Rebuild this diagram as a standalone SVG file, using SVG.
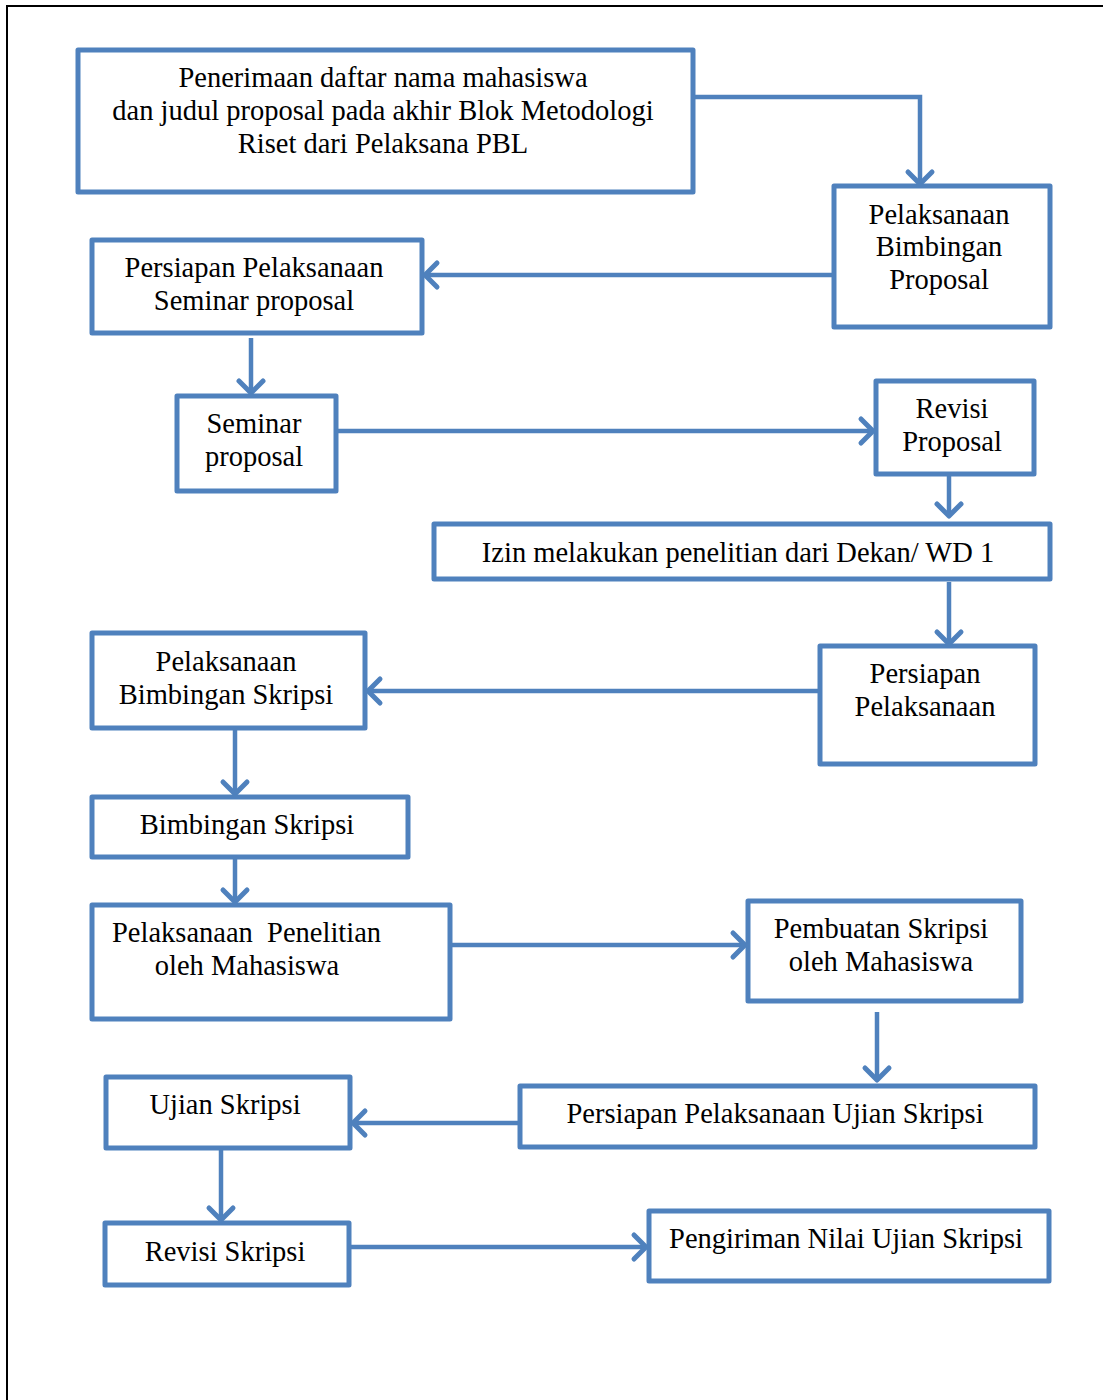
<svg xmlns="http://www.w3.org/2000/svg" width="1103" height="1400" viewBox="0 0 1103 1400">
<defs>
<style>
.box{fill:#fff;stroke:#4F81BD;stroke-width:5;stroke-linejoin:round}
.c{fill:none;stroke:#4F81BD;stroke-width:4.5;marker-end:url(#ah)}
text{font-family:"Liberation Serif","Times New Roman",serif;font-size:28.5px;fill:#000;text-anchor:middle}
</style>
<marker id="ah" markerUnits="userSpaceOnUse" markerWidth="30" markerHeight="30" viewBox="-15 -15 30 30" refX="0" refY="0" orient="auto" overflow="visible">
<path d="M -12 -12 L 0 0 L -12 12" fill="none" stroke="#4F81BD" stroke-width="5" stroke-linecap="round" stroke-linejoin="round"/>
</marker>
</defs>
<rect width="1103" height="1400" fill="#fff"/>
<rect x="7" y="6" width="1110" height="1410" fill="none" stroke="#000" stroke-width="2"/>
<g id="connectors">
<polyline class="c" points="693,97 920,97 920,184"/>
<line class="c" x1="834" y1="275" x2="425" y2="275"/>
<line class="c" x1="251" y1="338" x2="251" y2="393"/>
<line class="c" x1="336" y1="431" x2="873" y2="431"/>
<line class="c" x1="949" y1="474" x2="949" y2="516"/>
<line class="c" x1="949" y1="582" x2="949" y2="644"/>
<line class="c" x1="820" y1="691" x2="368" y2="691"/>
<line class="c" x1="235" y1="728" x2="235" y2="794"/>
<line class="c" x1="235" y1="857" x2="235" y2="902"/>
<line class="c" x1="450" y1="945" x2="745" y2="945"/>
<line class="c" x1="877" y1="1012" x2="877" y2="1080"/>
<line class="c" x1="520" y1="1123" x2="353" y2="1123"/>
<line class="c" x1="221" y1="1150" x2="221" y2="1220"/>
<line class="c" x1="349" y1="1247" x2="646" y2="1247"/>
</g>
<g id="n1"><rect class="box" x="78" y="50" width="615" height="142"/>
<text x="383" y="87">Penerimaan daftar nama mahasiswa</text>
<text x="383" y="120">dan judul proposal pada akhir Blok Metodologi</text>
<text x="383" y="153">Riset dari Pelaksana PBL</text></g>
<g id="n2"><rect class="box" x="834" y="186" width="216" height="141"/>
<text x="939" y="224">Pelaksanaan</text>
<text x="939" y="256">Bimbingan</text>
<text x="939" y="289">Proposal</text></g>
<g id="n3"><rect class="box" x="92" y="240" width="330" height="93"/>
<text x="254" y="277">Persiapan Pelaksanaan</text>
<text x="254" y="310">Seminar proposal</text></g>
<g id="n4"><rect class="box" x="177" y="396" width="159" height="95"/>
<text x="254" y="433">Seminar</text>
<text x="254" y="466">proposal</text></g>
<g id="n5"><rect class="box" x="876" y="381" width="158" height="93"/>
<text x="952" y="418">Revisi</text>
<text x="952" y="451">Proposal</text></g>
<g id="n6"><rect class="box" x="434" y="524" width="616" height="55"/>
<text x="738" y="562">Izin melakukan penelitian dari Dekan/ WD 1</text></g>
<g id="n7"><rect class="box" x="820" y="646" width="215" height="118"/>
<text x="925" y="683">Persiapan</text>
<text x="925" y="716">Pelaksanaan</text></g>
<g id="n8"><rect class="box" x="92" y="633" width="273" height="95"/>
<text x="226" y="671">Pelaksanaan</text>
<text x="226" y="704">Bimbingan Skripsi</text></g>
<g id="n9"><rect class="box" x="92" y="797" width="316" height="60"/>
<text x="247" y="834">Bimbingan Skripsi</text></g>
<g id="n10"><rect class="box" x="92" y="905" width="358" height="114"/>
<text x="112" y="942" style="text-anchor:start;white-space:pre" xml:space="preserve">Pelaksanaan  Penelitian</text>
<text x="247" y="975">oleh Mahasiswa</text></g>
<g id="n11"><rect class="box" x="748" y="901" width="273" height="100"/>
<text x="881" y="938">Pembuatan Skripsi</text>
<text x="881" y="971">oleh Mahasiswa</text></g>
<g id="n12"><rect class="box" x="520" y="1086" width="515" height="61"/>
<text x="775" y="1123">Persiapan Pelaksanaan Ujian Skripsi</text></g>
<g id="n13"><rect class="box" x="106" y="1077" width="244" height="71"/>
<text x="225" y="1114">Ujian Skripsi</text></g>
<g id="n14"><rect class="box" x="105" y="1223" width="244" height="62"/>
<text x="225" y="1261">Revisi Skripsi</text></g>
<g id="n15"><rect class="box" x="649" y="1211" width="400" height="70"/>
<text x="846" y="1248">Pengiriman Nilai Ujian Skripsi</text></g>
</svg>
